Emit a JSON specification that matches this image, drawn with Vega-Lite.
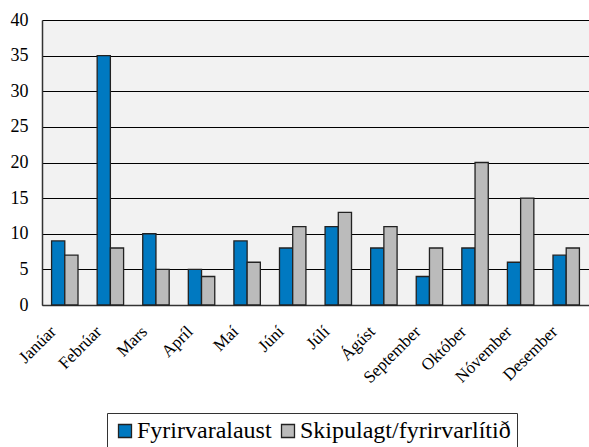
{
  "$schema": "https://vega.github.io/schema/vega-lite/v6.json",
  "autosize": "none",
  "width": 547,
  "height": 285,
  "padding": {"left": 42, "top": 20, "right": 0, "bottom": 142},
  "background": "white",
  "data": {"values": [
    {"m": "Janúar", "s": "Fyrirvaralaust", "v": 9}, {"m": "Janúar", "s": "Skipulagt/fyrirvarlítið", "v": 7},
    {"m": "Febrúar", "s": "Fyrirvaralaust", "v": 35}, {"m": "Febrúar", "s": "Skipulagt/fyrirvarlítið", "v": 8},
    {"m": "Mars", "s": "Fyrirvaralaust", "v": 10}, {"m": "Mars", "s": "Skipulagt/fyrirvarlítið", "v": 5},
    {"m": "Apríl", "s": "Fyrirvaralaust", "v": 5}, {"m": "Apríl", "s": "Skipulagt/fyrirvarlítið", "v": 4},
    {"m": "Maí", "s": "Fyrirvaralaust", "v": 9}, {"m": "Maí", "s": "Skipulagt/fyrirvarlítið", "v": 6},
    {"m": "Júní", "s": "Fyrirvaralaust", "v": 8}, {"m": "Júní", "s": "Skipulagt/fyrirvarlítið", "v": 11},
    {"m": "Júlí", "s": "Fyrirvaralaust", "v": 11}, {"m": "Júlí", "s": "Skipulagt/fyrirvarlítið", "v": 13},
    {"m": "Ágúst", "s": "Fyrirvaralaust", "v": 8}, {"m": "Ágúst", "s": "Skipulagt/fyrirvarlítið", "v": 11},
    {"m": "September", "s": "Fyrirvaralaust", "v": 4}, {"m": "September", "s": "Skipulagt/fyrirvarlítið", "v": 8},
    {"m": "Október", "s": "Fyrirvaralaust", "v": 8}, {"m": "Október", "s": "Skipulagt/fyrirvarlítið", "v": 20},
    {"m": "Nóvember", "s": "Fyrirvaralaust", "v": 6}, {"m": "Nóvember", "s": "Skipulagt/fyrirvarlítið", "v": 15},
    {"m": "Desember", "s": "Fyrirvaralaust", "v": 7}, {"m": "Desember", "s": "Skipulagt/fyrirvarlítið", "v": 8}
  ]},
  "config": {
    "view": {"fill": "#f2f2f2", "stroke": null},
    "font": "Liberation Serif"
  },
  "mark": {"type": "bar", "stroke": "#222222", "strokeWidth": 1.3},
  "encoding": {
    "x": {
      "field": "m", "type": "nominal", "sort": null, "title": null,
      "scale": {"paddingInner": 0.42, "paddingOuter": 0.21},
      "axis": {"labelAngle": -45, "labelFont": "Liberation Serif", "labelFontSize": 17, "labelColor": "black",
               "ticks": false, "domainColor": "#333333", "domainWidth": 1.5, "labelPadding": 18, "labelOffset": -17,
               "labelAlign": "right", "labelBaseline": "top"}
    },
    "xOffset": {"field": "s", "type": "nominal", "scale": {"paddingInner": 0, "paddingOuter": 0}},
    "y": {
      "field": "v", "type": "quantitative", "title": null,
      "scale": {"domain": [0, 40]},
      "axis": {"values": [0, 5, 10, 15, 20, 25, 30, 35, 40], "labelFont": "Liberation Serif", "labelFontSize": 18, "labelColor": "black",
               "ticks": false, "labelPadding": 14, "grid": true, "gridColor": "black", "gridWidth": 1.2,
               "domainColor": "#333333", "domainWidth": 1.5}
    },
    "color": {
      "field": "s", "type": "nominal", "title": null,
      "scale": {"domain": ["Fyrirvaralaust", "Skipulagt/fyrirvarlítið"], "range": ["#0079c1", "#bbbbbb"]},
      "legend": {
        "orient": "none", "legendX": 65, "legendY": 393, "direction": "horizontal",
        "symbolType": "square", "symbolSize": 169, "symbolStrokeColor": "#222222", "symbolStrokeWidth": 1.3, "symbolOpacity": 1,
        "labelFont": "Liberation Serif", "labelFontSize": 24, "labelColor": "black", "labelLimit": 300,
        "strokeColor": "#333333", "padding": 6, "columnPadding": 4, "symbolOffset": 0, "labelOffset": 0,
        "fillColor": "white"
      }
    }
  }
}
